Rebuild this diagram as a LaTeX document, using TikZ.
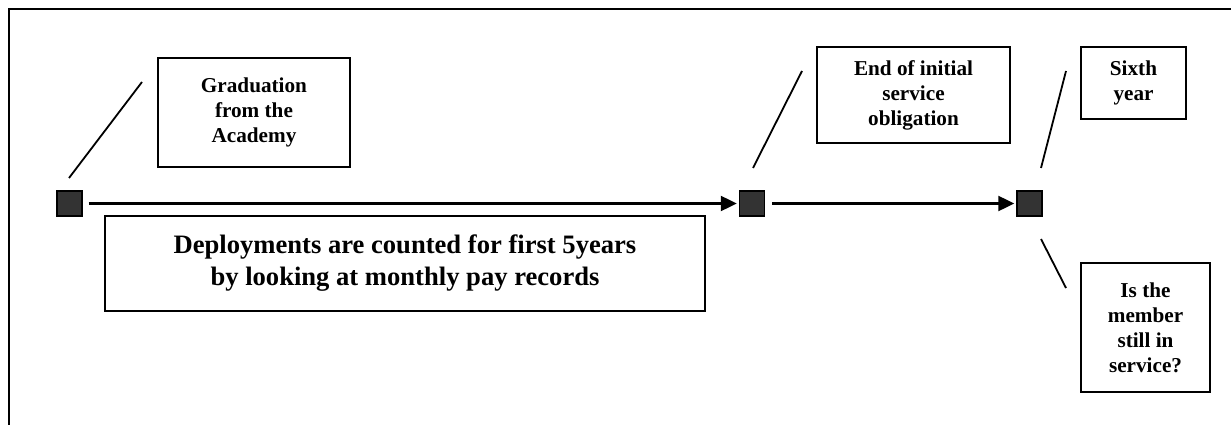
\documentclass[tikz,border=0pt]{standalone}
\usepackage{fontspec}
\setmainfont{Liberation Serif}
\usetikzlibrary{arrows.meta}
\tikzset{
  box/.style={draw=black, line width=2pt, fill=white, inner sep=0pt, align=center,
    font=\fontsize{21.2pt}{25pt}\selectfont\bfseries},
  bigbox/.style={box, font=\fontsize{26.6pt}{32pt}\selectfont\bfseries},
  marker/.style={draw=black, line width=1.4pt, fill=black!80, minimum size=25pt, inner sep=0pt},
  timearrow/.style={line width=2.2pt, -{Triangle[length=16pt,width=15pt]}},
  leader/.style={line width=1.8pt},
  frameline/.style={line width=2.2pt}
}
\begin{document}
\begin{tikzpicture}[x=1pt,y=-1pt]
\useasboundingbox (0,0) rectangle (1231,425);
% frame
\coordinate (fA) at (9,425);
\coordinate (fB) at (9,9);
\coordinate (fC) at (1231,9);
\draw[frameline] (fA) -- (fB) -- (fC);

% markers
\node[marker] (s1) at (69.5,203.5) {};
\node[marker] (s2) at (752,203.5) {};
\node[marker] (s3) at (1029.5,203.5) {};

% boxes
\node[box, minimum width=192pt, minimum height=109pt] (grad) at (254,112.5) {Graduation\\from the\\Academy};
\node[box, minimum width=193pt, minimum height=96pt] (endobl) at (913.5,95) {End of initial\\service\\obligation};
\node[box, minimum width=105pt, minimum height=72pt] (sixth) at (1133.5,83) {Sixth\\year};
\node[box, minimum width=129pt, minimum height=129pt] (still) at (1145.5,327.5) {Is the\\member\\still in\\service?};
\node[bigbox, minimum width=600pt, minimum height=95pt] (deploy) at (405,263.5) {Deployments are counted for first 5years\\by looking at monthly pay records};

% timeline arrows
\draw[timearrow] ([xshift=6pt]s1.east) -- ([xshift=-2pt]s2.west);
\draw[timearrow] ([xshift=7pt]s2.east) -- ([xshift=-2pt]s3.west);

% leader lines
\coordinate (g1) at (69,178);   \coordinate (g2) at (142,82);
\coordinate (e1) at (753,168);  \coordinate (e2) at (802,71);
\coordinate (x1) at (1041,168); \coordinate (x2) at (1066,71);
\coordinate (i1) at (1041,239); \coordinate (i2) at (1066,288);
\draw[leader] (g1) -- (g2);
\draw[leader] (e1) -- (e2);
\draw[leader] (x1) -- (x2);
\draw[leader] (i1) -- (i2);
\end{tikzpicture}
\end{document}
